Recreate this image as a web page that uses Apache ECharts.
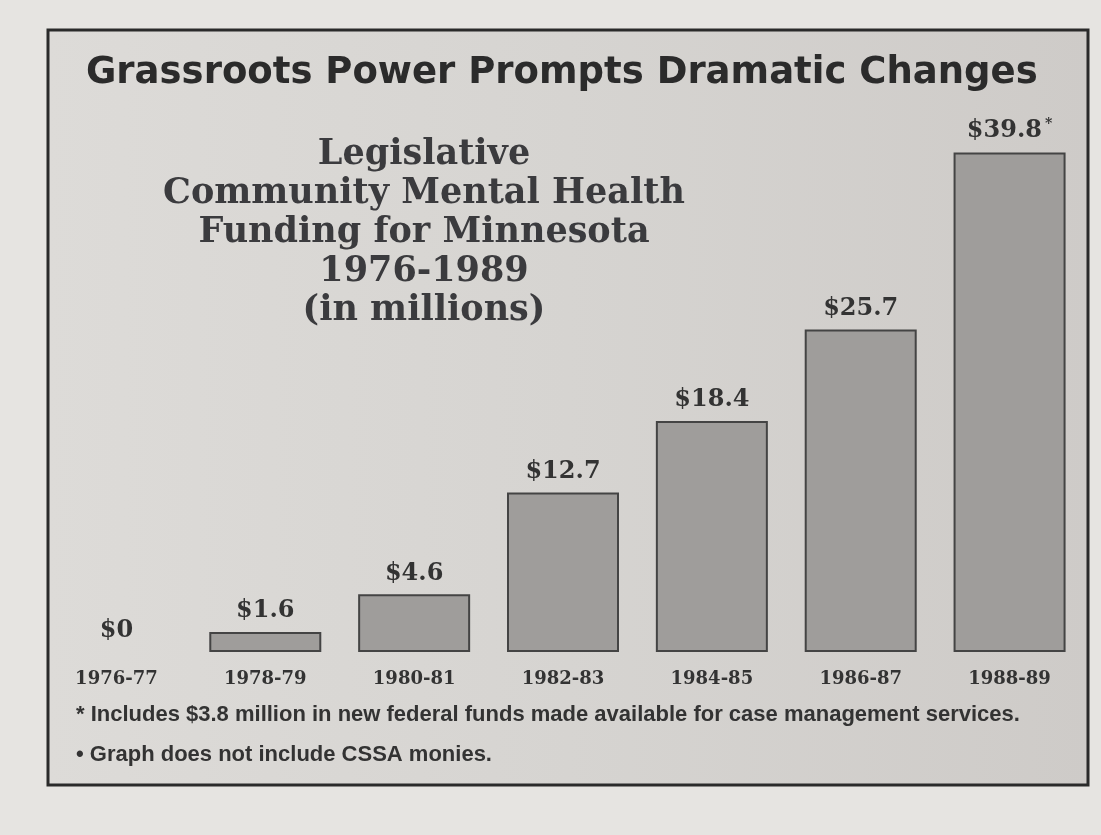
<!DOCTYPE html>
<html><head><meta charset="utf-8">
<script src="https://cdn.jsdelivr.net/npm/echarts@6/dist/echarts.min.js"></script>
<style>html,body{margin:0;padding:0;background:#e6e4e1;}#c{width:1101px;height:835px;}</style>
</head><body><div id="c"></div>
<script>
const categories = ['1976-77','1978-79','1980-81','1982-83','1984-85','1986-87','1988-89'];
const funding = [0, 1.6, 4.6, 12.7, 18.4, 25.7, 39.8];
const footnoteMarks = ['', '', '', '', '', '', '*'];
const titleText = 'Grassroots Power Prompts Dramatic Changes';
const subtitleLines = ['Legislative', 'Community Mental Health', 'Funding for Minnesota', '1976-1989', '(in millions)'];
const footnotes = ['* Includes $3.8 million in new federal funds made available for case management services.', '• Graph does not include CSSA monies.'];

const chart = echarts.init(document.getElementById('c'));
const serif = '"DejaVu Serif", "Liberation Serif", serif';
const noteFont = 'bold 22px "Liberation Sans", Arial, sans-serif';
chart.setOption({
  backgroundColor: '#e6e4e1',
  graphic: [
    { type: 'rect', z: -10, shape: { x: 48, y: 30, width: 1040, height: 755 },
      style: { fill: new echarts.graphic.LinearGradient(0, 0, 1, 0, [
        { offset: 0, color: '#dddbd8' }, { offset: 0.5, color: '#d6d4d1' }, { offset: 1, color: '#cecbc8' }]),
        stroke: '#2a2a2a', lineWidth: 3 } },
    { type: 'text', left: 86, top: 55, style: { text: titleText, font: 'bold 37px "DejaVu Sans", sans-serif', fill: '#2b2b2b' } },
    { type: 'text', left: 76, top: 704, style: { text: footnotes[0], font: noteFont, fill: '#333' } },
    { type: 'text', left: 76, top: 744, style: { text: footnotes[1], font: noteFont, fill: '#333' } },
    { type: 'text', x: 424, y: 135, style: { text: subtitleLines.join('\n'), align: 'center', lineHeight: 39,
      font: 'bold 35px ' + serif, fill: '#3b3b3e' } }
  ],
  grid: { left: 42, right: 17, top: 150, bottom: 183 },
  xAxis: {
    type: 'category', data: categories,
    axisLine: { show: false }, axisTick: { show: false },
    axisLabel: { margin: 18, fontFamily: serif, fontWeight: 'bold', fontSize: 18, color: '#333' }
  },
  yAxis: { type: 'value', min: 0, max: 40, show: false, splitLine: { show: false } },
  series: [{
    type: 'bar', barWidth: 112,
    data: funding.map(v => v === 0 ? { value: v, itemStyle: { borderWidth: 0 } } : v),
    itemStyle: { color: '#9f9d9b', borderColor: '#444', borderWidth: 2 },
    label: {
      show: true, position: 'top', distance: 9,
      formatter: p => '$' + p.value + (footnoteMarks[p.dataIndex] ? '{s|' + footnoteMarks[p.dataIndex] + '}' : ''),
      fontFamily: serif, fontWeight: 'bold', fontSize: 24, color: '#333',
      rich: { s: { fontSize: 14, verticalAlign: 'top', padding: [0, 0, 12, 3], fontWeight: 'bold', fontFamily: serif, color: '#333' } }
    }
  }]
});
</script></body></html>
